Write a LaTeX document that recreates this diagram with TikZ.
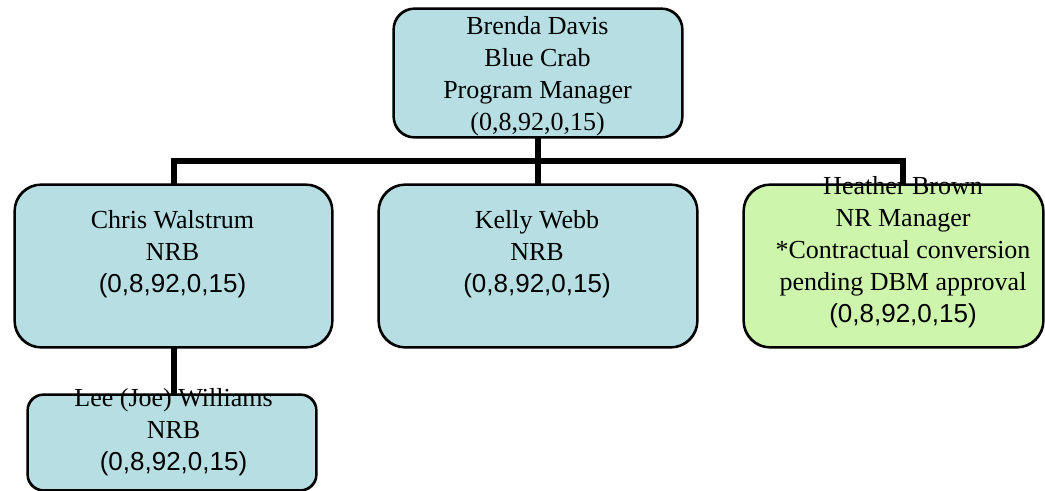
\documentclass[tikz,border=0pt]{standalone}
\usepackage{fontspec}
\setmainfont{Liberation Serif}
\newfontfamily\arialf{Liberation Sans}
\definecolor{bluefill}{RGB}{183,223,227}
\definecolor{greenfill}{RGB}{205,245,172}
\begin{document}
\begin{tikzpicture}[x=0.75pt,y=-0.75pt,
  box/.style={draw=black, line width=1.2pt, rectangle, inner sep=0pt, fill=bluefill},
  link/.style={draw=black, line width=4.5pt, line join=miter},
  outline/.style={draw=black, line width=1.2pt},
  lbl/.style={anchor=base, align=center, inner sep=0pt, font=\fontsize{19.5}{24}\selectfont}]
\useasboundingbox (0,0) rectangle (1045,491);
% boxes
\coordinate (barL) at (173.5,161);
\coordinate (barR) at (903,161);
\coordinate (hTop) at (903,185);
\coordinate (lTop) at (173.5,395);
\node[box, rounded corners=15.75pt, minimum width=216pt, minimum height=96pt] (top) at (538,73) {};
\node[box, rounded corners=20pt, minimum width=237.75pt, minimum height=121.5pt] (chris) at (173.5,266) {};
\node[box, rounded corners=20pt, minimum width=238.5pt, minimum height=121.5pt] (kelly) at (538,266) {};
\node[box, rounded corners=20pt, minimum width=224.25pt, minimum height=121.5pt, fill=greenfill] (heather) at (893.5,266) {};
\node[box, rounded corners=12pt, minimum width=216pt, minimum height=71.25pt] (lee) at (172,442.5) {};
% connectors
\draw[link] (top.south) -- (kelly.north);
\draw[link] (chris.north) -- (barL) -- (barR) -- (hTop);
\draw[link] (chris.south) -- (lTop);
% box outlines over connector ends
\draw[outline, rounded corners=20pt] (chris.south west) rectangle (chris.north east);
\draw[outline, rounded corners=20pt] (kelly.south west) rectangle (kelly.north east);
\draw[outline, rounded corners=20pt] (heather.south west) rectangle (heather.north east);
\draw[outline, rounded corners=12pt] (lee.south west) rectangle (lee.north east);
\draw[outline, rounded corners=15.75pt] (top.south west) rectangle (top.north east);
% texts (base anchor = baseline of last line)
\node[lbl] (topT) at (537.5,131) {Brenda Davis\\Blue Crab\\Program Manager\\(0,8,92,0,15)};
\node[lbl] (chrisT) at (172.5,293) {Chris Walstrum\\NRB\\{\arialf (0,8,92,0,15)}};
\node[lbl] (kellyT) at (537,293) {Kelly Webb\\NRB\\{\arialf (0,8,92,0,15)}};
\node[lbl] (heatherT) at (903,323) {Heather Brown\\NR Manager\\*Contractual conversion\\pending DBM approval\\{\arialf (0,8,92,0,15)}};
\node[lbl] (leeT) at (173.5,470) {Lee (Joe) Williams\\NRB\\{\arialf (0,8,92,0,15)}};
\end{tikzpicture}
\end{document}
